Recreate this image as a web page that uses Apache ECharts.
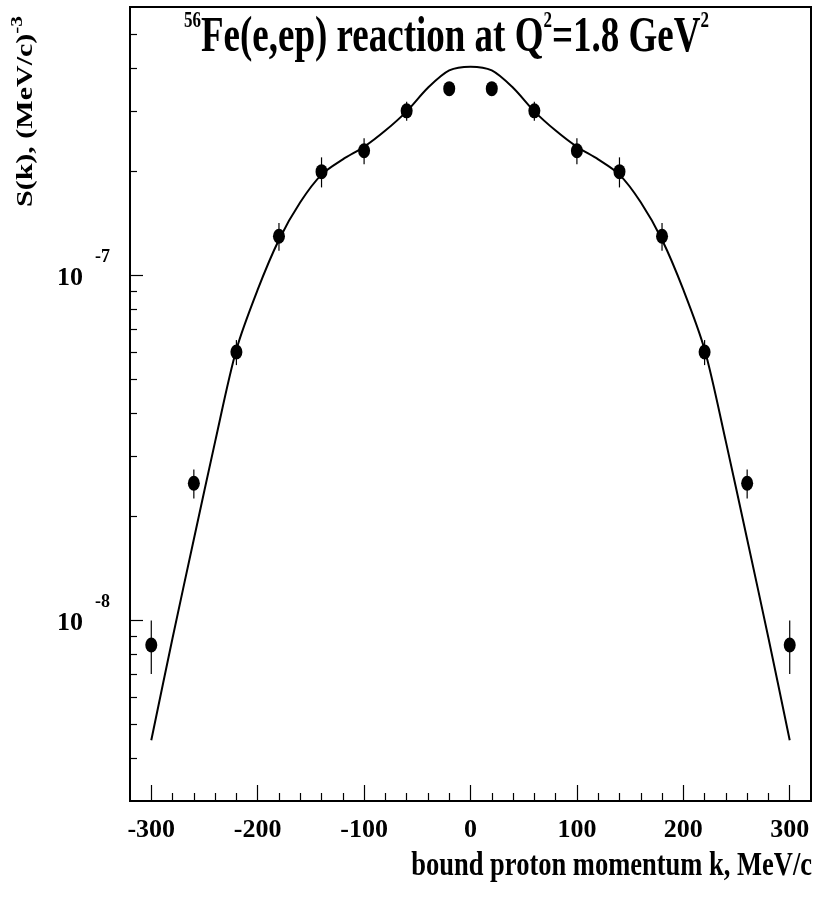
<!DOCTYPE html>
<html><head><meta charset="utf-8">
<script src="https://cdn.jsdelivr.net/npm/echarts@6/dist/echarts.min.js"></script>
<style>html,body{margin:0;padding:0;background:#fff}#c{width:817px;height:920px}</style>
</head><body><div id="c"></div>
<script>
// Measured points: bound proton momentum k (MeV/c) and S(k) (MeV/c)^-3
const kValues = [-300, -260, -220, -180, -140, -100, -60, -20, 20, 60, 100, 140, 180, 220, 260, 300];
const sValues = [8.5e-9, 2.5e-8, 6.0e-8, 1.30e-7, 2.0e-7, 2.3e-7, 3.0e-7, 3.48e-7, 3.48e-7, 3.0e-7, 2.3e-7, 2.0e-7, 1.30e-7, 6.0e-8, 2.5e-8, 8.5e-9];
const sErrors = [1.5e-9, 2.4e-9, 5e-9, 1.2e-8, 2.0e-8, 2.0e-8, 1.9e-8, 0.8e-8, 0.8e-8, 1.9e-8, 2.0e-8, 2.0e-8, 1.2e-8, 5e-9, 2.4e-9, 1.5e-9];
// Theory curve
const curveK = [-300, -280, -260, -240, -220, -200, -180, -160, -140, -120, -100, -80, -60, -40, -20, 0, 20, 40, 60, 80, 100, 120, 140, 160, 180, 200, 220, 240, 260, 280, 300];
const curveS = [4.5e-9, 8.9e-9, 1.72e-8, 3.3e-8, 6.1e-8, 9.1e-8, 1.27e-7, 1.63e-7, 1.96e-7, 2.17e-7, 2.36e-7, 2.63e-7, 2.99e-7, 3.5e-7, 3.93e-7, 4.03e-7, 3.93e-7, 3.5e-7, 2.99e-7, 2.63e-7, 2.36e-7, 2.17e-7, 1.96e-7, 1.63e-7, 1.27e-7, 9.1e-8, 6.1e-8, 3.3e-8, 1.72e-8, 8.9e-9, 4.5e-9];
// Axis ticks
const xMajorTicks = [-300, -200, -100, 0, 100, 200, 300];
const xMinorTicks = [-280, -260, -240, -220, -180, -160, -140, -120, -80, -60, -40, -20, 20, 40, 60, 80, 120, 140, 160, 180, 220, 240, 260, 280];
const yMajorTicks = [1e-8, 1e-7];
const yMinorTicks = [4e-9, 5e-9, 6e-9, 7e-9, 8e-9, 9e-9, 2e-8, 3e-8, 4e-8, 5e-8, 6e-8, 7e-8, 8e-8, 9e-8, 2e-7, 3e-7, 4e-7, 5e-7];
const xRange = [-320, 320];
const yRange = [3e-9, 6e-7];

const FF = '"Liberation Serif", "Times New Roman", serif';
const chart = echarts.init(document.getElementById('c'), null, {renderer: 'canvas'});

const commonX = {type: 'value', min: xRange[0], max: xRange[1], position: 'bottom', splitLine: {show: false}};
const commonY = {type: 'log', logBase: 10, min: yRange[0], max: yRange[1], position: 'left', splitLine: {show: false}};

chart.setOption({
  animation: false,
  backgroundColor: '#fff',
  grid: {left: 130, top: 7, width: 681, height: 794, show: true, borderColor: '#000', borderWidth: 2, backgroundColor: 'transparent', outerBoundsMode: 'none'},
  xAxis: [
    Object.assign({}, commonX, {
      axisLine: {show: true, onZero: false, lineStyle: {color: '#000', width: 2}},
      axisTick: {show: true, inside: true, length: 16, customValues: xMajorTicks, lineStyle: {color: '#000', width: 1.2}},
      axisLabel: {show: true, customValues: xMajorTicks, margin: 16, color: '#000', fontFamily: FF, fontWeight: 'bold', fontSize: 26}
    }),
    Object.assign({}, commonX, {
      axisLine: {show: false, onZero: false},
      axisTick: {show: true, inside: true, length: 8, customValues: xMinorTicks, lineStyle: {color: '#000', width: 1.2}},
      axisLabel: {show: false}
    })
  ],
  yAxis: [
    Object.assign({}, commonY, {
      axisLine: {show: true, onZero: false, lineStyle: {color: '#000', width: 2}},
      axisTick: {show: true, inside: true, length: 13, customValues: yMajorTicks, lineStyle: {color: '#000', width: 1.2}},
      axisLabel: {
        show: true, customValues: yMajorTicks, margin: 20, color: '#000',
        formatter: v => '{b|10}{s|' + Math.round(Math.log10(v)) + '}',
        rich: {
          b: {fontFamily: FF, fontWeight: 'bold', fontSize: 26, color: '#000', padding: [6, 0, 0, 0]},
          s: {fontFamily: FF, fontWeight: 'bold', fontSize: 18, color: '#000', padding: [0, 0, 36, 12]}
        }
      }
    }),
    Object.assign({}, commonY, {
      axisLine: {show: false, onZero: false},
      axisTick: {show: true, inside: true, length: 7, customValues: yMinorTicks, lineStyle: {color: '#000', width: 1.2}},
      axisLabel: {show: false}
    })
  ],
  graphic: [
    {
      type: 'text', x: 184, y: 38, scaleY: 1.37, z: 100,
      style: {
        text: '{sup|56}{m|Fe(e,ep) reaction at Q}{sup|2}{m|=1.8 GeV}{sup|2}',
        align: 'left', verticalAlign: 'middle', textAlign: 'left', textVerticalAlign: 'middle',
        fill: '#000',
        rich: {
          m: {fontFamily: FF, fontWeight: 'bold', fontSize: 37, fill: '#000', color: '#000'},
          sup: {fontFamily: FF, fontWeight: 'bold', fontSize: 17, fill: '#000', color: '#000', padding: [0, 0, 25, 0]}
        }
      }
    },
    {
      type: 'text', x: 26, y: 207, rotation: Math.PI / 2, scaleX: 1.25, z: 100,
      style: {
        text: '{m|S(k), (MeV/c)}{s|-3}',
        align: 'left', verticalAlign: 'middle', textAlign: 'left', textVerticalAlign: 'middle',
        fill: '#000',
        rich: {
          m: {fontFamily: FF, fontWeight: 'bold', fontSize: 24, fill: '#000', color: '#000'},
          s: {fontFamily: FF, fontWeight: 'bold', fontSize: 17, fill: '#000', color: '#000', padding: [0, 0, 16, 0]}
        }
      }
    },
    {
      type: 'text', x: 812, y: 866, scaleY: 1.3, z: 100,
      style: {
        text: 'bound proton momentum k, MeV/c',
        align: 'right', verticalAlign: 'middle', textAlign: 'right', textVerticalAlign: 'middle',
        fill: '#000', font: 'bold 26.5px ' + FF
      }
    }
  ],
  series: [
    {
      type: 'line', xAxisIndex: 0, yAxisIndex: 0, smooth: 0.3, showSymbol: false, symbol: 'none',
      lineStyle: {color: '#000', width: 2}, z: 2,
      data: curveK.map((k, i) => [k, curveS[i]])
    },
    {
      type: 'custom', xAxisIndex: 0, yAxisIndex: 0, z: 3,
      encode: {x: 0, y: [1, 2]},
      renderItem: (params, api) => {
        const p1 = api.coord([api.value(0), api.value(1)]);
        const p2 = api.coord([api.value(0), api.value(2)]);
        return {type: 'line', shape: {x1: p1[0], y1: p1[1], x2: p2[0], y2: p2[1]}, style: {stroke: '#000', lineWidth: 1.2}};
      },
      data: kValues.map((k, i) => [k, sValues[i] - sErrors[i], sValues[i] + sErrors[i]])
    },
    {
      type: 'scatter', xAxisIndex: 0, yAxisIndex: 0, z: 4,
      symbol: 'circle', symbolSize: [12, 15],
      itemStyle: {color: '#000', opacity: 1},
      data: kValues.map((k, i) => [k, sValues[i]])
    }
  ]
});
</script>
</body></html>
